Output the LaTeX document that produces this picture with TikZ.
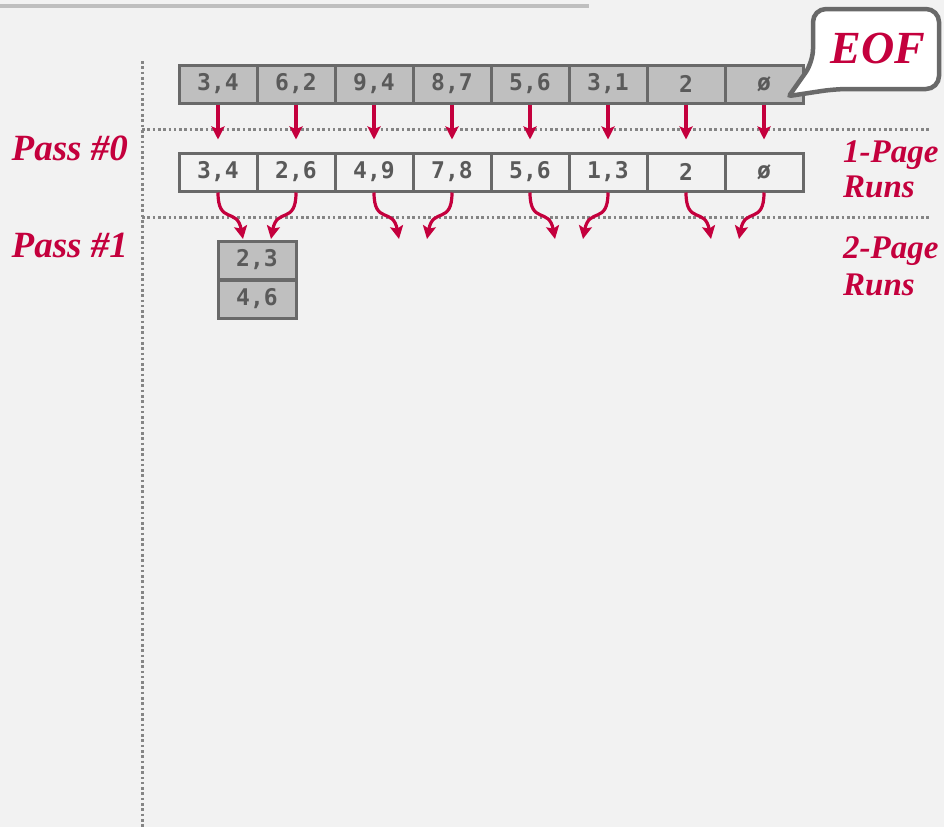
\documentclass[tikz,border=0pt]{standalone}
\usepackage{fontspec}
\setmainfont{Liberation Serif}
\newfontfamily\cellfont{DejaVu Sans Mono}
\usetikzlibrary{arrows.meta}
\definecolor{bg}{HTML}{F2F2F2}
\definecolor{crim}{HTML}{C4003D}
\definecolor{cellgray}{HTML}{BFBFBF}
\definecolor{edge}{HTML}{696969}
\definecolor{celltext}{HTML}{5A5A5A}
\definecolor{dotgray}{HTML}{858585}
\tikzset{
  cellbox/.style={draw=edge, line width=3pt, minimum width=78pt, minimum height=38pt, inner sep=0pt, font=\cellfont\bfseries\fontsize{23}{23}\selectfont, text=celltext},
  fullcell/.style={cellbox, fill=cellgray},
  emptycell/.style={cellbox, fill=bg},
  redarrow/.style={draw=crim, line width=3.2pt, -{Stealth[length=13pt,width=13pt,inset=2.5pt]}},
  sepline/.style={draw=dotgray, line width=3pt, dash pattern=on 2.6pt off 2.7pt},
  passlabel/.style={text=crim, font=\bfseries\itshape\fontsize{37}{37}\selectfont, inner sep=0pt},
  runlabel/.style={text=crim, font=\bfseries\itshape\fontsize{33}{35}\selectfont, inner sep=0pt},
  eofbox/.style={draw=edge, fill=white, line width=4.5pt, rounded corners=13pt}
}
\begin{document}
\begin{tikzpicture}[x=1pt,y=-1pt]
\fill[bg] (0,0) rectangle (944,827);
\useasboundingbox (0,0) rectangle (944,827);
% top rule
\draw[cellgray, line width=4pt] (0,6) -- (589,6);
% separators
\draw[sepline] (142,61) -- (142,827);
\draw[sepline] (142,129) -- (930,129);
\draw[sepline] (142,217) -- (930,217);
% top row
\foreach \i/\t in {1/{3,4},2/{6,2},3/{9,4},4/{8,7},5/{5,6},6/{3,1},7/{2},8/{ø}} {
  \node[fullcell] (a\i) at ({218+78*(\i-1)},84) {\t};
}
% second row
\foreach \i/\t in {1/{3,4},2/{2,6},3/{4,9},4/{7,8},5/{5,6},6/{1,3},7/{2},8/{ø}} {
  \node[emptycell] (b\i) at ({218+78*(\i-1)},172) {\t};
}
% pass 1 boxes
\node[fullcell] (c1) at (257,260) {2,3};
\node[fullcell] (c2) at (257,299) {4,6};
% straight arrows
\foreach \i in {1,...,8} {
  \draw[redarrow, shorten >=12pt] (a\i.south) -- (b\i.north);
}
% curved arrow end points
\foreach \p/\x in {1/218,2/374,3/530,4/686} {
  \coordinate (L\p) at ({\x+25},239);
  \coordinate (R\p) at ({\x+53},239);
  \coordinate (LA\p) at (\x,225);
  \coordinate (LB\p) at ({\x+19},207);
  \coordinate (RA\p) at ({\x+78},225);
  \coordinate (RB\p) at ({\x+59},207);
}
\foreach \p/\l/\r in {1/1/2,2/3/4,3/5/6,4/7/8} {
  \draw[redarrow] (b\l.south) .. controls (LA\p) and (LB\p) .. (L\p);
  \draw[redarrow] (b\r.south) .. controls (RA\p) and (RB\p) .. (R\p);
}
% labels
\node[passlabel, anchor=base east] (p0) at (128,160) {Pass \#0};
\node[passlabel, anchor=base east] (p1) at (128,257) {Pass \#1};
\node[runlabel, anchor=base west] (r1a) at (843,162) {1-Page};
\node[runlabel, anchor=base west] (r1b) at (843,197) {Runs};
\node[runlabel, anchor=base west] (r2a) at (843,258) {2-Page};
\node[runlabel, anchor=base west] (r2b) at (843,295) {Runs};
% EOF callout
\draw[eofbox] (835,89) -- (939,89) -- (939,9) -- (813,9) -- (813,62) [rounded corners=2pt] -- (789,96) [rounded corners=13pt] -- cycle;
\node[text=crim, font=\bfseries\itshape\fontsize{46}{46}\selectfont, inner sep=0pt] (eof) at (878,48) {EOF};
\end{tikzpicture}
\end{document}
